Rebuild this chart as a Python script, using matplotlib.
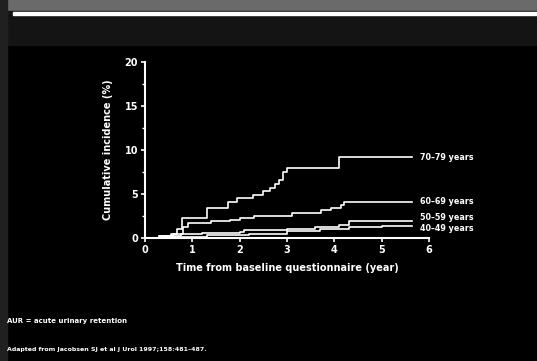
"""Cumulative incidence of AUR by age group — white on black slide."""
import numpy as np
import matplotlib.pyplot as plt
from matplotlib.patches import Rectangle

BG = "black"
FG = "white"

# step curves: time (years) and cumulative incidence (%)
t_70 = [0, 0.3, 0.55, 0.67, 0.78, 1.3, 1.75, 1.95, 2.28, 2.5, 2.65, 2.75, 2.84, 2.92, 3.0, 4.1, 5.64]
y_70 = [0, 0.2, 0.4, 1.0, 2.3, 3.4, 4.1, 4.6, 4.9, 5.3, 5.7, 6.1, 6.6, 7.5, 8.0, 9.2, 9.2]

t_60 = [0, 0.4, 0.75, 0.8, 0.9, 1.4, 1.8, 2.0, 2.3, 3.1, 3.72, 3.93, 4.14, 4.2, 5.64]
y_60 = [0, 0.2, 0.5, 1.2, 1.7, 1.9, 2.0, 2.3, 2.5, 2.8, 3.2, 3.4, 3.75, 4.1, 4.1]

t_50 = [0, 0.3, 0.6, 1.2, 2.0, 2.1, 3.0, 3.6, 4.1, 4.3, 5.64]
y_50 = [0, 0.2, 0.4, 0.6, 0.7, 0.9, 1.0, 1.2, 1.5, 1.9, 1.9]

t_40 = [0, 0.5, 1.3, 2.2, 3.0, 3.7, 4.3, 5.0, 5.64]
y_40 = [0, 0.1, 0.3, 0.5, 0.8, 1.0, 1.3, 1.4, 1.4]

series = [("70–79 years", t_70, y_70, 9.2),
          ("60–69 years", t_60, y_60, 4.1),
          ("50–59 years", t_50, y_50, 2.3),
          ("40–49 years", t_40, y_40, 1.1)]

x_ticks = [0, 1, 2, 3, 4, 5, 6]
y_ticks = [0, 5, 10, 15, 20]

plt.rcParams["font.family"] = ["DejaVu Sans"]
plt.rcParams["font.weight"] = "bold"

fig = plt.figure(figsize=(5.37, 3.61), dpi=100, facecolor=BG)

# slide decoration: grey strip at top + white rule, grey left edge
fig.patches.append(Rectangle((0, 1 - 11/361), 1, 11/361, transform=fig.transFigure,
                             color="#6a6a6a", zorder=0))
fig.patches.append(Rectangle((0, 1 - 45/361), 1, 34/361, transform=fig.transFigure,
                             color="#141414", zorder=0))
fig.patches.append(Rectangle((0, 0), 7/537, 1, transform=fig.transFigure,
                             color="#202020", zorder=0))
fig.patches.append(Rectangle((13/537, 1 - 14.5/361), 1, 2.5/361, transform=fig.transFigure,
                             color=FG, zorder=1))

ax = fig.add_axes([145/537, 1 - 238/361, 284/537, 176/361])
ax.set_facecolor("none")

for name, t, y, ly in series:
    ax.step(t, y, where="post", color=FG, lw=1.2, clip_on=False)
    ax.text(5.8, ly, name, color=FG, fontsize=5.8, fontweight="bold", va="center")

ax.set_xlim(0, 6)
ax.set_ylim(0, 20)
ax.set_xticks(x_ticks)
ax.set_yticks(y_ticks)
ax.set_yticks([2.5, 7.5, 12.5, 17.5], minor=True)
for s in ["top", "right"]:
    ax.spines[s].set_visible(False)
for s in ["left", "bottom"]:
    ax.spines[s].set_color(FG)
    ax.spines[s].set_linewidth(1.5)
ax.tick_params(colors=FG, labelsize=7, width=1.2, length=3, pad=2)
ax.tick_params(which="minor", colors=FG, width=1.0, length=2.5)
for lab in ax.get_xticklabels() + ax.get_yticklabels():
    lab.set_fontweight("bold")

ax.set_xlabel("Time from baseline questionnaire (year)", color=FG, fontsize=7,
              fontweight="bold", labelpad=6)
ax.set_ylabel("Cumulative incidence (%)", color=FG, fontsize=7,
              fontweight="bold", labelpad=8)

fig.text(7/537, 1 - 321/361, "AUR = acute urinary retention", color=FG,
         fontsize=5, fontweight="bold", va="center")
fig.text(7/537, 1 - 350/361, "Adapted from Jacobsen SJ et al J Urol 1997;158:481–487.",
         color=FG, fontsize=4.5, fontweight="bold", va="center")

fig.savefig("out.png", dpi=100, facecolor=BG)
